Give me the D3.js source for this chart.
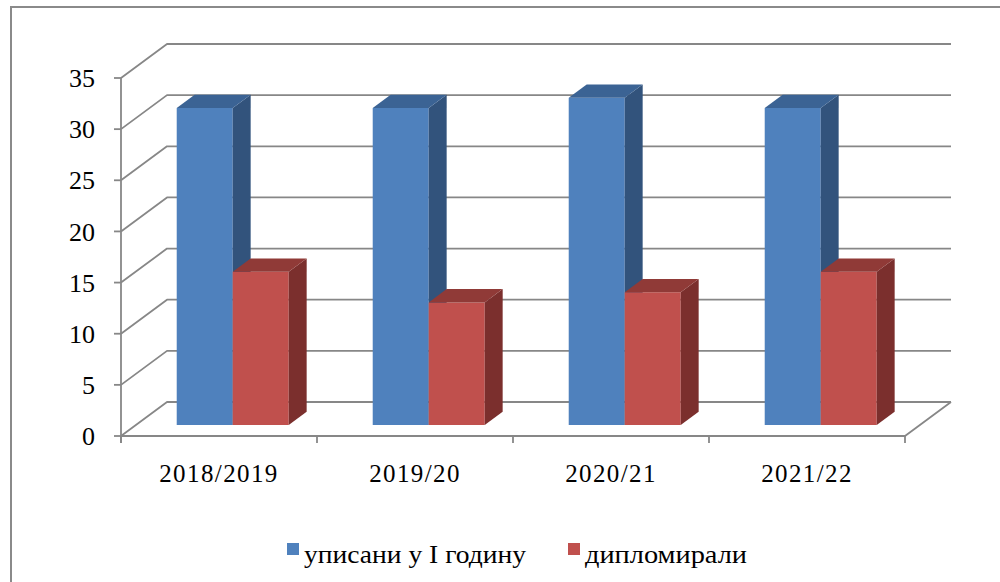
<!DOCTYPE html>
<html>
<head>
<meta charset="utf-8">
<script src="https://cdn.jsdelivr.net/npm/d3@7"></script>
<style>
  html, body { margin: 0; padding: 0; background: #fff; }
  svg { display: block; }
  text { font-family: "Liberation Serif", "DejaVu Serif", serif; fill: #000; }
</style>
</head>
<body>
<div id="chart"></div>
<script>
const categories = ["2018/2019", "2019/20", "2020/21", "2021/22"];
const seriesNames = ["уписани у I годину", "дипломирали"];
const enrolled = [31, 31, 32, 31];
const graduated = [15, 12, 13, 15];
const yTicks = [0, 5, 10, 15, 20, 25, 30, 35];

const W = 1000, H = 582;
// 3d look: offset from front plane to back wall
const depth = { dx: 46, dy: -34 };
const barDepthStart = 0.32, barDepthEnd = 0.71;

const colors = [
    { front: "#4f81bd", side: "#32537c", top: "#3b6394" },
    { front: "#c0504d", side: "#7b2f2d", top: "#903a37" }
];

const svg = d3.select("#chart").append("svg")
    .attr("width", W).attr("height", H);

// outer chart border
svg.append("rect")
    .attr("x", 11).attr("y", 7)
    .attr("width", 1100).attr("height", 700)
    .attr("fill", "none").attr("stroke", "#8a8a8a").attr("stroke-width", 2);

const y = d3.scaleLinear().domain([0, 35]).range([436, 78]);
const x = d3.scaleBand().domain(categories).range([121, 905]).padding(0);
const xs = d3.scaleBand().domain([0, 1]).range([0, x.bandwidth()])
    .paddingInner(0).paddingOuter(0.75);

const grid = svg.append("g")
    .attr("fill", "none")
    .attr("stroke", "#878787")
    .attr("stroke-width", 1.8)
    .attr("stroke-linejoin", "round");

// left wall diagonals + back wall gridlines
grid.selectAll("path.gl")
    .data(yTicks)
    .join("path")
    .attr("class", "gl")
    .attr("d", d => {
        const x0 = x.range()[0], y0 = y(d);
        return `M${x0},${y0}L${x0 + depth.dx},${y0 + depth.dy}L${x.range()[1] + depth.dx},${y0 + depth.dy}`;
    });

// floor front edge and right edge
grid.append("path")
    .attr("d", `M${x.range()[0]},${y(0)}L${x.range()[1]},${y(0)}L${x.range()[1] + depth.dx},${y(0) + depth.dy}`);

// vertical axis
grid.append("line")
    .attr("x1", x.range()[0]).attr("x2", x.range()[0])
    .attr("y1", y(35)).attr("y2", y(0) + 7);

// y ticks
grid.selectAll("line.yt")
    .data(yTicks)
    .join("line")
    .attr("class", "yt")
    .attr("x1", x.range()[0] - 7).attr("x2", x.range()[0])
    .attr("y1", d => y(d)).attr("y2", d => y(d));

// category ticks
const bounds = categories.map(c => x(c)).concat([x.range()[1]]);
grid.selectAll("line.xt")
    .data(bounds)
    .join("line")
    .attr("class", "xt")
    .attr("x1", d => d).attr("x2", d => d)
    .attr("y1", y(0)).attr("y2", y(0) + 7);

// y labels
svg.append("g")
    .selectAll("text")
    .data(yTicks)
    .join("text")
    .attr("x", 95)
    .attr("y", d => y(d))
    .attr("dy", "0.35em")
    .attr("text-anchor", "end")
    .attr("font-size", 26)
    .text(d => d);

// category labels
svg.append("g")
    .selectAll("text")
    .data(categories)
    .join("text")
    .attr("x", d => x(d) + x.bandwidth() / 2)
    .attr("y", 482)
    .attr("text-anchor", "middle")
    .attr("font-size", 25)
    .attr("letter-spacing", 1.4)
    .text(d => d);

// bars
const bars = [];
categories.forEach((c, i) => {
    [enrolled[i], graduated[i]].forEach((v, s) => bars.push({ c, s, v }));
});

const ox = depth.dx * barDepthStart, oy = depth.dy * barDepthStart;
const bx = depth.dx * (barDepthEnd - barDepthStart), by = depth.dy * (barDepthEnd - barDepthStart);

const bar = svg.append("g")
    .selectAll("g")
    .data(bars)
    .join("g");

bar.each(function (d) {
    const g = d3.select(this);
    const x0 = x(d.c) + xs(d.s) + ox - 1;
    const x1 = x0 + xs.bandwidth();
    const yb = y(0) + oy;
    const yt = y(d.v) + oy;
    g.append("path")
        .attr("fill", colors[d.s].front)
        .attr("d", `M${x0},${yb}L${x0},${yt}L${x1},${yt}L${x1},${yb}Z`);
    g.append("path")
        .attr("fill", colors[d.s].side)
        .attr("d", `M${x1},${yb}L${x1},${yt}L${x1 + bx},${yt + by}L${x1 + bx},${yb + by}Z`);
    g.append("path")
        .attr("fill", colors[d.s].top)
        .attr("d", `M${x0},${yt}L${x0 + bx},${yt + by}L${x1 + bx},${yt + by}L${x1},${yt}Z`);
});

// legend
const legendItems = [
    { name: seriesNames[0], color: colors[0].front, x: 287, len: 222 },
    { name: seriesNames[1], color: colors[1].front, x: 568, len: 162 }
];
const lg = svg.append("g")
    .selectAll("g")
    .data(legendItems)
    .join("g")
    .attr("transform", d => `translate(${d.x},543)`);
lg.append("rect")
    .attr("width", 12).attr("height", 12)
    .attr("fill", d => d.color);
lg.append("text")
    .attr("x", 17)
    .attr("y", 20)
    .attr("font-size", 26)
    .attr("textLength", d => d.len)
    .attr("lengthAdjust", "spacingAndGlyphs")
    .text(d => d.name);
</script>
</body>
</html>
